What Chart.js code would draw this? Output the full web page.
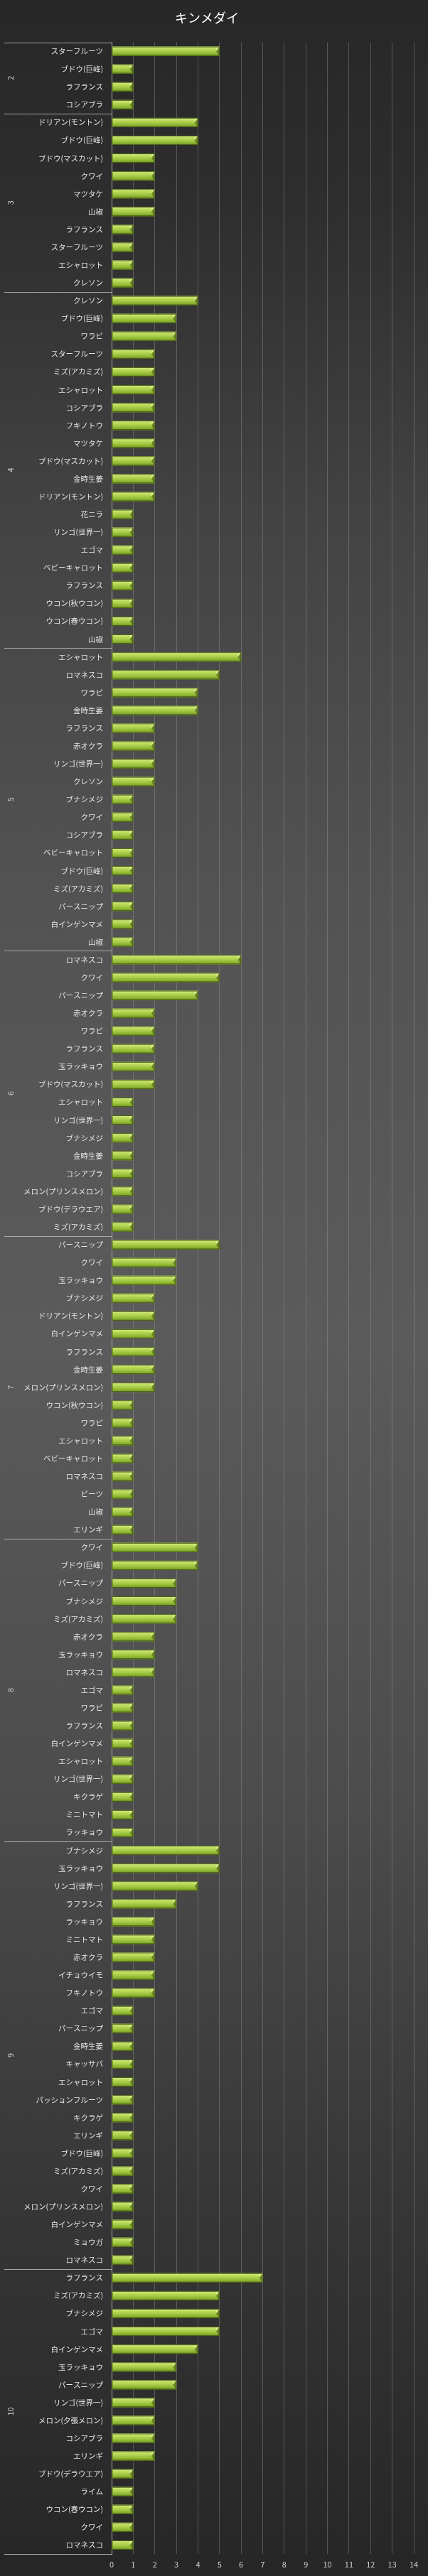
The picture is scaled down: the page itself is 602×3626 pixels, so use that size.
<!DOCTYPE html>
<html>
<head>
<meta charset="utf-8">
<script src="https://cdn.jsdelivr.net/npm/chart.js@4"></script>
<style>
  html,body{margin:0;padding:0;background:#2a2a2a;}
  #wrap{width:602px;height:3626px;position:relative;}
</style>
</head>
<body>
<div id="wrap"><canvas id="c"></canvas></div>
<script>
const chartTitle = 'キンメダイ';
const months = ['2','3','4','5','6','7','8','9','10'];

const items2  = ['スターフルーツ','ブドウ(巨峰)','ラフランス','コシアブラ'];
const counts2 = [5,1,1,1];
const items3  = ['ドリアン(モントン)','ブドウ(巨峰)','ブドウ(マスカット)','クワイ','マツタケ','山椒','ラフランス','スターフルーツ','エシャロット','クレソン'];
const counts3 = [4,4,2,2,2,2,1,1,1,1];
const items4  = ['クレソン','ブドウ(巨峰)','ワラビ','スターフルーツ','ミズ(アカミズ)','エシャロット','コシアブラ','フキノトウ','マツタケ','ブドウ(マスカット)','金時生姜','ドリアン(モントン)','花ニラ','リンゴ(世界一)','エゴマ','ベビーキャロット','ラフランス','ウコン(秋ウコン)','ウコン(春ウコン)','山椒'];
const counts4 = [4,3,3,2,2,2,2,2,2,2,2,2,1,1,1,1,1,1,1,1];
const items5  = ['エシャロット','ロマネスコ','ワラビ','金時生姜','ラフランス','赤オクラ','リンゴ(世界一)','クレソン','ブナシメジ','クワイ','コシアブラ','ベビーキャロット','ブドウ(巨峰)','ミズ(アカミズ)','パースニップ','白インゲンマメ','山椒'];
const counts5 = [6,5,4,4,2,2,2,2,1,1,1,1,1,1,1,1,1];
const items6  = ['ロマネスコ','クワイ','パースニップ','赤オクラ','ワラビ','ラフランス','玉ラッキョウ','ブドウ(マスカット)','エシャロット','リンゴ(世界一)','ブナシメジ','金時生姜','コシアブラ','メロン(プリンスメロン)','ブドウ(デラウエア)','ミズ(アカミズ)'];
const counts6 = [6,5,4,2,2,2,2,2,1,1,1,1,1,1,1,1];
const items7  = ['パースニップ','クワイ','玉ラッキョウ','ブナシメジ','ドリアン(モントン)','白インゲンマメ','ラフランス','金時生姜','メロン(プリンスメロン)','ウコン(秋ウコン)','ワラビ','エシャロット','ベビーキャロット','ロマネスコ','ビーツ','山椒','エリンギ'];
const counts7 = [5,3,3,2,2,2,2,2,2,1,1,1,1,1,1,1,1];
const items8  = ['クワイ','ブドウ(巨峰)','パースニップ','ブナシメジ','ミズ(アカミズ)','赤オクラ','玉ラッキョウ','ロマネスコ','エゴマ','ワラビ','ラフランス','白インゲンマメ','エシャロット','リンゴ(世界一)','キクラゲ','ミニトマト','ラッキョウ'];
const counts8 = [4,4,3,3,3,2,2,2,1,1,1,1,1,1,1,1,1];
const items9  = ['ブナシメジ','玉ラッキョウ','リンゴ(世界一)','ラフランス','ラッキョウ','ミニトマト','赤オクラ','イチョウイモ','フキノトウ','エゴマ','パースニップ','金時生姜','キャッサバ','エシャロット','パッションフルーツ','キクラゲ','エリンギ','ブドウ(巨峰)','ミズ(アカミズ)','クワイ','メロン(プリンスメロン)','白インゲンマメ','ミョウガ','ロマネスコ'];
const counts9 = [5,5,4,3,2,2,2,2,2,1,1,1,1,1,1,1,1,1,1,1,1,1,1,1];
const items10  = ['ラフランス','ミズ(アカミズ)','ブナシメジ','エゴマ','白インゲンマメ','玉ラッキョウ','パースニップ','リンゴ(世界一)','メロン(夕張メロン)','コシアブラ','エリンギ','ブドウ(デラウエア)','ライム','ウコン(春ウコン)','クワイ','ロマネスコ'];
const counts10 = [7,5,5,5,4,3,3,2,2,2,2,1,1,1,1,1];

const xTicks = [0,1,2,3,4,5,6,7,8,9,10,11,12,13,14];

// 月ごとにまとめる
const groupItems  = [items2,items3,items4,items5,items6,items7,items8,items9,items10];
const groupCounts = [counts2,counts3,counts4,counts5,counts6,counts7,counts8,counts9,counts10];
const labels = [].concat(...groupItems);
const values = [].concat(...groupCounts);
const bounds = [0];
groupItems.forEach(g => bounds.push(bounds[bounds.length-1] + g.length));

const FONT = '"Noto Sans CJK JP", "Noto Sans", sans-serif';

const bgPlugin = {
  id:'bg',
  beforeDraw(chart){
    const {ctx, width, height} = chart;
    const g = ctx.createLinearGradient(0,0,0,height);
    g.addColorStop(0,   '#272727');
    g.addColorStop(0.08,'#2e2e2e');
    g.addColorStop(0.2, '#434343');
    g.addColorStop(0.35,'#535353');
    g.addColorStop(0.52,'#5b5b5b');
    g.addColorStop(0.7, '#4c4c4c');
    g.addColorStop(0.85,'#373737');
    g.addColorStop(1,   '#262626');
    ctx.save();
    ctx.fillStyle = g;
    ctx.fillRect(0,0,width,height);
    ctx.restore();
  }
};

// 棒の立体感
const bevelPlugin = {
  id:'bevel',
  afterDatasetsDraw(chart){
    const ctx = chart.ctx;
    chart.getDatasetMeta(0).data.forEach(bar=>{
      const top = bar.y - bar.height/2, h = bar.height;
      const x0 = bar.base, x1 = bar.x;
      const g = ctx.createLinearGradient(0, top, 0, top+h);
      g.addColorStop(0,   '#e0f29a');
      g.addColorStop(0.2, '#c2df62');
      g.addColorStop(0.55,'#a3c944');
      g.addColorStop(0.85,'#86ab2c');
      g.addColorStop(1,   '#5d7a1a');
      ctx.save();
      ctx.fillStyle = g;
      ctx.fillRect(x0, top, x1-x0, h);
      // 右端の面取り
      ctx.fillStyle = 'rgba(60,80,15,0.55)';
      ctx.beginPath();
      ctx.moveTo(x1-5, top+h*0.5);
      ctx.lineTo(x1, top);
      ctx.lineTo(x1, top+h);
      ctx.closePath();
      ctx.fill();
      ctx.fillStyle = 'rgba(235,250,170,0.6)';
      ctx.beginPath();
      ctx.moveTo(x1-5, top+h*0.5);
      ctx.lineTo(x1, top);
      ctx.lineTo(x1-5, top+2);
      ctx.closePath();
      ctx.fill();
      ctx.strokeStyle = '#4a6214';
      ctx.lineWidth = 1;
      ctx.strokeRect(x0+0.5, top+0.5, x1-x0-1, h-1);
      ctx.restore();
    });
  }
};

// 月の区切り線とラベル
const groupPlugin = {
  id:'groups',
  afterDraw(chart){
    const {ctx, chartArea} = chart;
    const ys = chart.scales.y;
    const edge = b => {
      if(b===0) return chartArea.top;
      if(b===labels.length) return chartArea.bottom;
      return (ys.getPixelForValue(b-1) + ys.getPixelForValue(b))/2;
    };
    ctx.save();
    ctx.strokeStyle = '#a8a8a8';
    ctx.lineWidth = 1;
    bounds.forEach(b=>{
      const y = Math.round(edge(b)) + 0.5;
      ctx.beginPath();
      ctx.moveTo(6, y);
      ctx.lineTo(chartArea.left, y);
      ctx.stroke();
    });
    ctx.fillStyle = '#d0d0d0';
    ctx.font = '11px ' + FONT;
    ctx.textAlign = 'center';
    ctx.textBaseline = 'middle';
    months.forEach((m,i)=>{
      const yc = (edge(bounds[i]) + edge(bounds[i+1]))/2;
      ctx.save();
      ctx.translate(15, yc);
      ctx.rotate(-Math.PI/2);
      ctx.fillText(m, 0, 0);
      ctx.restore();
    });
    ctx.restore();
  }
};

new Chart(document.getElementById('c'), {
  type:'bar',
  data:{ labels, datasets:[{ data: values, backgroundColor:'#a3c944', borderWidth:0, barPercentage:0.52, categoryPercentage:1 }]},
  options:{
    indexAxis:'y',
    responsive:true,
    maintainAspectRatio:false,
    animation:false,
    layout:{ padding:{ left:0, right:20, top:0, bottom:0 } },
    plugins:{
      legend:{ display:false },
      tooltip:{ enabled:false },
      title:{ display:true, text: chartTitle, color:'#ffffff',
        font:{ family: FONT, size:18, weight:'normal' }, padding:{ top:14, bottom:24 } }
    },
    scales:{
      x:{
        min:0, max:14,
        afterBuildTicks: s => { s.ticks = xTicks.map(v=>({value:v})); },
        afterFit: s => { s.height = 31; },
        grid:{ color:'rgba(170,170,170,0.35)', drawTicks:false },
        border:{ display:false },
        ticks:{ color:'#cfcfcf', padding:8, font:{ family: FONT, size:11 } }
      },
      y:{
        afterFit: s => { s.width = 157; },
        grid:{ display:false, drawTicks:false },
        border:{ display:true, color:'#a8a8a8', width:1 },
        ticks:{ autoSkip:false, color:'#e4e4e4', padding:12, font:{ family: FONT, size:10.5 } }
      }
    }
  },
  plugins:[bgPlugin, bevelPlugin, groupPlugin]
});
</script>
</body>
</html>
